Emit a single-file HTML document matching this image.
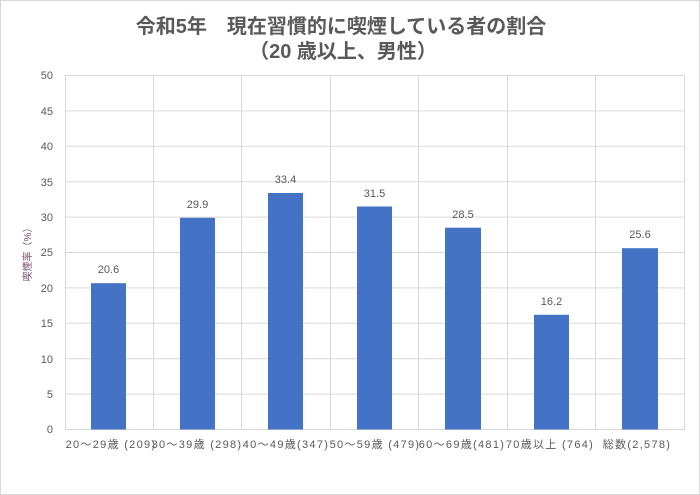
<!DOCTYPE html>
<html><head><meta charset="utf-8"><style>
body{margin:0;background:#fff}
svg{display:block;font-family:"Liberation Sans","Noto Sans CJK JP",sans-serif}
</style></head><body>
<svg width="700" height="495" viewBox="0 0 700 495">
<rect x="0.5" y="0.5" width="699" height="494" fill="#fff" stroke="#d9d9d9"/>
<text x="341" y="33" text-anchor="middle" font-size="20" font-weight="bold" fill="#595959">令和5年　現在習慣的に喫煙している者の割合</text>
<text x="343" y="58" text-anchor="middle" font-size="20" font-weight="bold" fill="#595959">（20 歳以上、男性）</text>
<g stroke="#d9d9d9" stroke-width="1">
<line x1="65" x2="684" y1="75.5" y2="75.5"/><line x1="65" x2="684" y1="110.9" y2="110.9"/>
<line x1="65" x2="684" y1="146.3" y2="146.3"/><line x1="65" x2="684" y1="181.7" y2="181.7"/>
<line x1="65" x2="684" y1="217.1" y2="217.1"/><line x1="65" x2="684" y1="252.5" y2="252.5"/>
<line x1="65" x2="684" y1="287.9" y2="287.9"/><line x1="65" x2="684" y1="323.3" y2="323.3"/>
<line x1="65" x2="684" y1="358.7" y2="358.7"/><line x1="65" x2="684" y1="394.1" y2="394.1"/>
<line x1="65" x2="684" y1="429.5" y2="429.5"/>
<line x1="65.5" x2="65.5" y1="75" y2="430"/><line x1="153.5" x2="153.5" y1="75" y2="430"/>
<line x1="241.5" x2="241.5" y1="75" y2="430"/><line x1="330.5" x2="330.5" y1="75" y2="430"/>
<line x1="418.5" x2="418.5" y1="75" y2="430"/><line x1="507.5" x2="507.5" y1="75" y2="430"/>
<line x1="595.5" x2="595.5" y1="75" y2="430"/><line x1="684.5" x2="684.5" y1="75" y2="430"/>
</g>
<g font-size="11" fill="#595959" text-anchor="end">
<text x="53" y="79">50</text><text x="53" y="115">45</text><text x="53" y="150">40</text>
<text x="53" y="186">35</text><text x="53" y="221">30</text><text x="53" y="256">25</text>
<text x="53" y="292">20</text><text x="53" y="327">15</text><text x="53" y="363">10</text>
<text x="53" y="398">5</text><text x="53" y="433">0</text>
</g>
<text transform="translate(31,252) rotate(-90)" text-anchor="middle" font-size="10" fill="#7f4f6f">喫煙率（%）</text>
<g fill="#4472c4">
<rect x="91" y="283.2" width="35" height="146.3"/>
<rect x="180" y="217.8" width="35" height="211.7"/>
<rect x="268" y="193" width="35" height="236.5"/>
<rect x="357" y="206.5" width="35" height="223"/>
<rect x="445" y="227.7" width="36" height="201.8"/>
<rect x="534" y="314.8" width="35" height="114.7"/>
<rect x="622" y="248.2" width="36" height="181.3"/>
</g>
<g font-size="11" fill="#595959" text-anchor="middle">
<text x="108.5" y="273">20.6</text><text x="197.5" y="208">29.9</text><text x="285.5" y="183">33.4</text>
<text x="374.5" y="197">31.5</text><text x="463" y="218">28.5</text><text x="551.5" y="305">16.2</text>
<text x="640" y="238">25.6</text>
</g>
<g font-size="11" fill="#595959" text-anchor="middle" letter-spacing="1.3">
<text x="111" y="448">20～29歳 (209)</text><text x="197" y="448">30～39歳 (298)</text>
<text x="286" y="448">40～49歳(347)</text><text x="375" y="448">50～59歳 (479)</text>
<text x="462" y="448">60～69歳(481)</text><text x="550" y="448">70歳以上 (764)</text>
<text x="637" y="448">総数(2,578)</text>
</g>
</svg>
</body></html>
